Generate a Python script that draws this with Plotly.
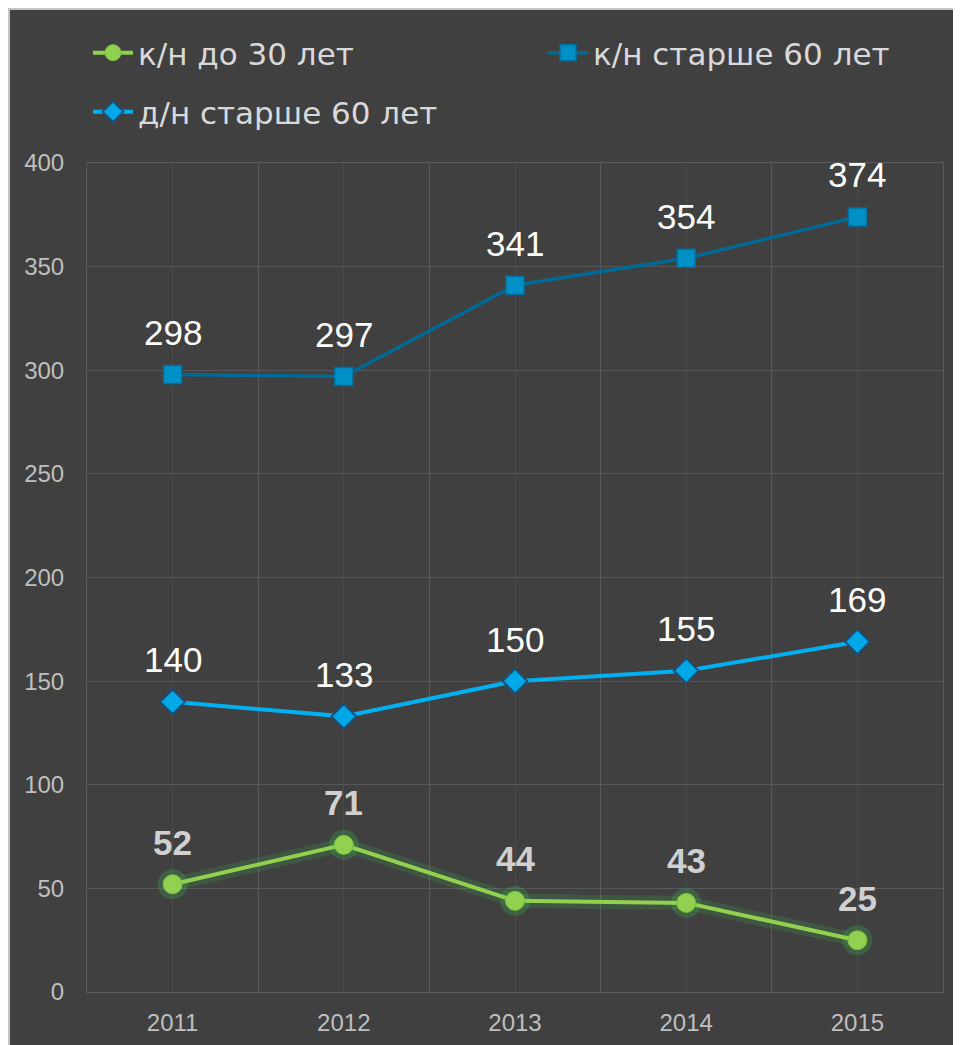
import plotly.graph_objects as go

years = ["2011", "2012", "2013", "2014", "2015"]
kn_under30 = [52, 71, 44, 43, 25]
kn_over60 = [298, 297, 341, 354, 374]
dn_over60 = [140, 133, 150, 155, 169]
y_ticks = [0, 50, 100, 150, 200, 250, 300, 350, 400]

xs = list(range(len(years)))
FONT = "Liberation Sans, Arial, sans-serif"
LFONT = "DejaVu Sans, Liberation Sans, sans-serif"

fig = go.Figure()

# glow for green series
fig.add_trace(go.Scatter(x=xs, y=kn_under30, mode="lines+markers", showlegend=False,
                         hoverinfo="skip",
                         line=dict(color="rgba(60,190,80,0.18)", width=14),
                         marker=dict(symbol="circle", size=30, color="rgba(60,190,80,0.26)")))
fig.add_trace(go.Scatter(x=xs, y=kn_under30, mode="lines+markers", name="к/н до 30 лет",
                         legend="legend",
                         line=dict(color="#92d050", width=4),
                         marker=dict(symbol="circle", size=19, color="#92d050",
                                     line=dict(color="#7cc040", width=1))))
fig.add_trace(go.Scatter(x=xs, y=kn_over60, mode="lines+markers", name="к/н старше 60 лет",
                         legend="legend2",
                         line=dict(color="#006a96", width=3.5),
                         marker=dict(symbol="square", size=18, color="#0090c8",
                                     line=dict(color="#0070a0", width=1.5))))
fig.add_trace(go.Scatter(x=xs, y=dn_over60, mode="lines+markers", name="д/н старше 60 лет",
                         legend="legend3",
                         line=dict(color="#00b0f0", width=4),
                         marker=dict(symbol="diamond", size=19, color="#00a8e8",
                                     line=dict(color="#1a4f7a", width=2))))

annotations = []
for i, v in enumerate(kn_under30):
    annotations.append(dict(x=xs[i], y=v, text=str(v), showarrow=False, yshift=42,
                            font=dict(family=FONT, size=35, color="#d0d0d0", weight="bold")))
for series in (kn_over60, dn_over60):
    for i, v in enumerate(series):
        annotations.append(dict(x=xs[i], y=v, text=str(v), showarrow=False, yshift=42,
                                font=dict(family=FONT, size=35, color="#ffffff")))

# plot area in figure pixel coordinates
L, T, W, H = 79, 155, 856, 829
def px_x(p):
    return (p - L) / W
def px_y(p):
    return (T + H - p) / H

shapes = [dict(type="rect", xref="paper", yref="paper", layer="below",
               x0=px_x(1), x1=px_x(1200), y0=px_y(1300), y1=px_y(1),
               fillcolor="rgba(0,0,0,0)", line=dict(color="#c4c4c4", width=2))]

legend_common = dict(orientation="h", bgcolor="rgba(0,0,0,0)",
                     font=dict(family=LFONT, size=31, color="#d9d9d9"),
                     xanchor="left", yanchor="middle", itemwidth=40)

fig.update_layout(
    width=961, height=1045,
    margin=dict(l=L, r=961 - L - W, t=T, b=1045 - T - H),
    paper_bgcolor="#404040",
    plot_bgcolor="#404040",
    shapes=shapes,
    annotations=annotations,
    legend=dict(x=px_x(80), y=px_y(45), **legend_common),
    legend2=dict(x=px_x(535), y=px_y(45), **legend_common),
    legend3=dict(x=px_x(80), y=px_y(104), **legend_common),
    xaxis=dict(range=[-0.5, 4.5], tickvals=xs, ticktext=years,
               showgrid=True, gridcolor="#4a4a4a", gridwidth=1,
               minor=dict(tickvals=[-0.5, 0.5, 1.5, 2.5, 3.5, 4.5], showgrid=True,
                          gridcolor="#5a5a5a", gridwidth=1),
               showline=True, linecolor="#5a5a5a", linewidth=1, mirror=True,
               zeroline=False, ticks="", ticklabelstandoff=9,
               tickfont=dict(family=FONT, size=24, color="#bfbfbf"), fixedrange=True),
    yaxis=dict(range=[0, 400], tickvals=y_ticks,
               showgrid=True, gridcolor="#575757", gridwidth=1,
               showline=True, linecolor="#5a5a5a", linewidth=1, mirror=True,
               zeroline=False, ticks="", ticklabelstandoff=17,
               tickfont=dict(family=FONT, size=24, color="#bfbfbf"), fixedrange=True),
)

fig.write_html("out.html")
